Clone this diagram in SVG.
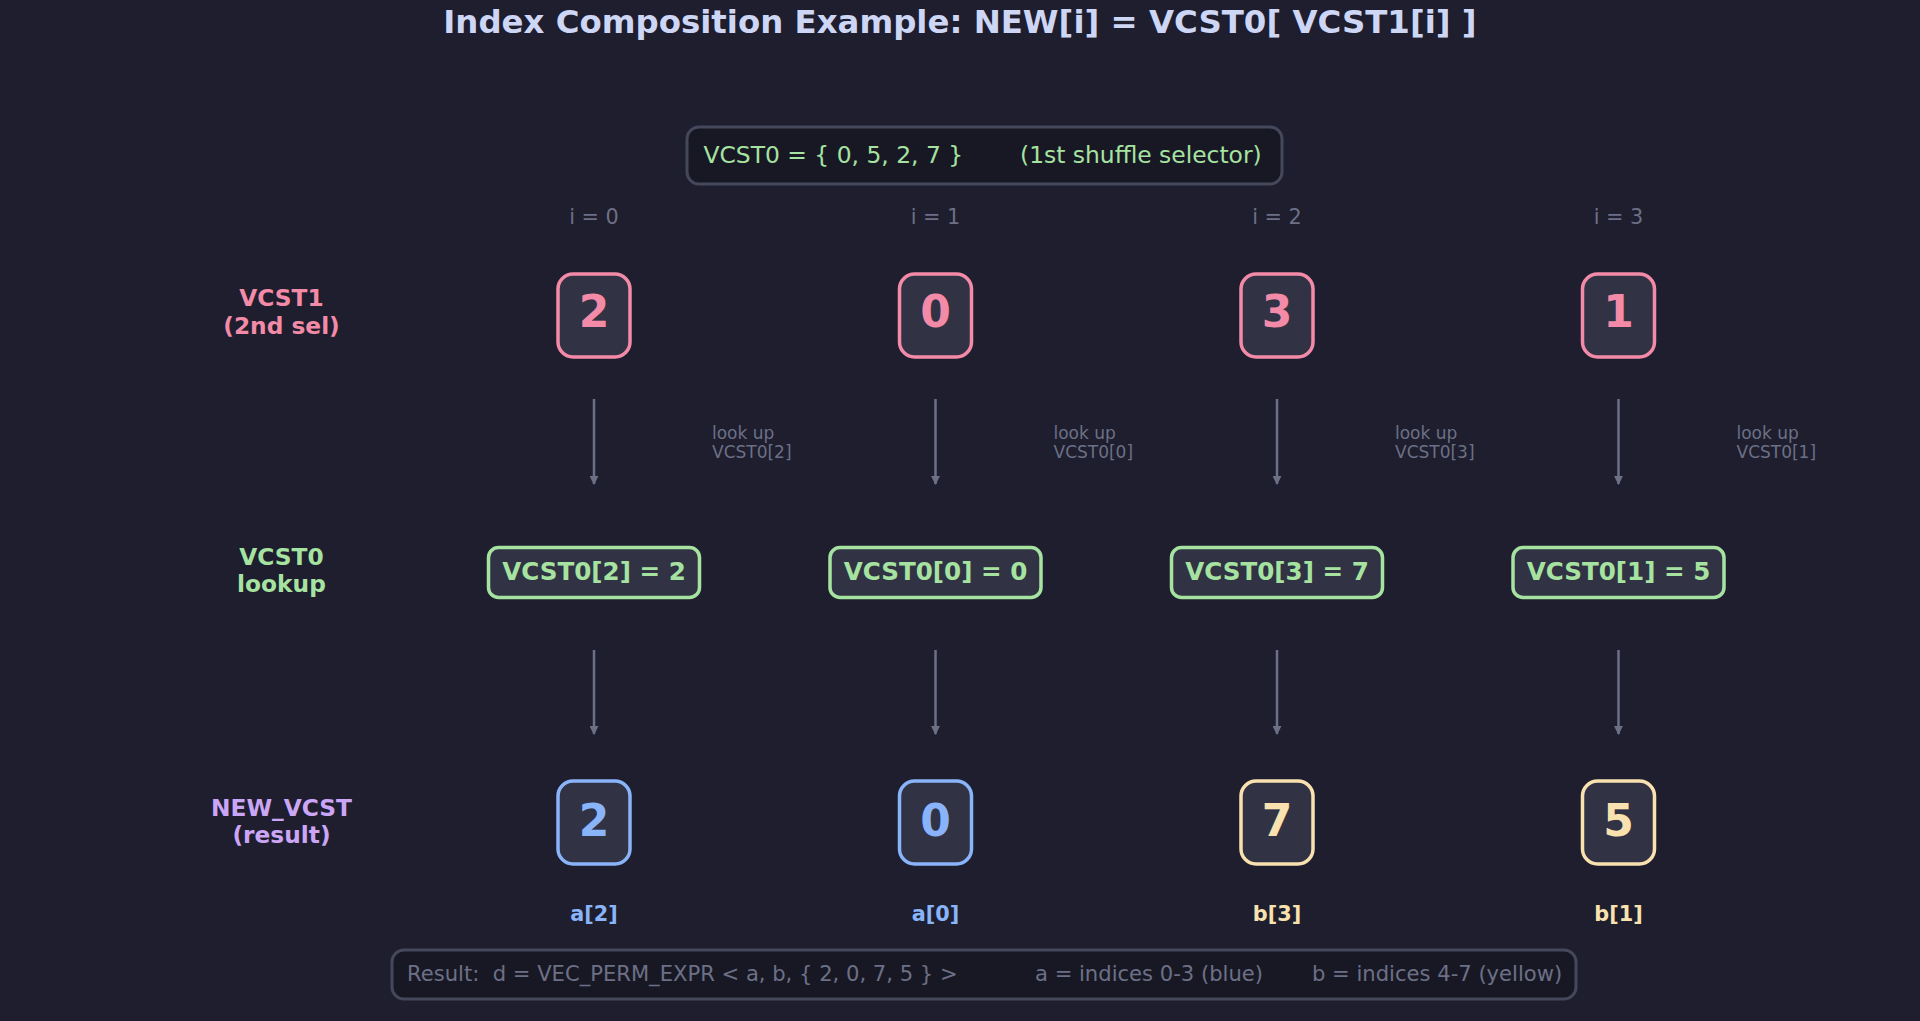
<svg xmlns="http://www.w3.org/2000/svg" width="1920" height="1021" viewBox="0 0 1920 1021">
<defs>
<style>
text{font-family:"DejaVu Sans","Liberation Sans",sans-serif}
.title{font-size:32.4px;font-weight:bold;fill:#cdd6f4;text-anchor:middle}
.hdr{font-size:23.4px;fill:#a6e3a1}
.idx{font-size:20.8px;fill:#6c7086;text-anchor:middle}
.row{font-size:23.3px;font-weight:bold;text-anchor:middle}
.sel{fill:#313244;stroke:#f38ba8;stroke-width:3.5}
.num{font-size:44px;font-weight:bold;text-anchor:middle}
.look{fill:#313244;stroke:#a6e3a1;stroke-width:3.5}
.looktxt{font-size:24.6px;font-weight:bold;fill:#a6e3a1;text-anchor:middle}
.note{font-size:17px;fill:#6c7086}
.res{font-size:20.8px;font-weight:bold;text-anchor:middle}
.panel{fill:#181825;stroke:#45475a;stroke-width:3}
.foot{font-size:21.1px;fill:#6c7086}
.arr{stroke:#6c7086;stroke-width:2.5;fill:none;marker-end:url(#ah)}
</style>
<marker id="ah" viewBox="0 0 10 10" refX="9" refY="5" markerWidth="3.6" markerHeight="3.6" orient="auto" markerUnits="strokeWidth">
<path d="M0,0 L10,5 L0,10 z" fill="#6c7086"/>
</marker>
</defs>
<rect x="0" y="0" width="1920" height="1021" fill="#1e1e2e"/>
<text class="title" x="960" y="33">Index Composition Example: NEW[i] = VCST0[ VCST1[i] ]</text>

<g id="vcst0-def">
<rect class="panel" x="687" y="127" width="595" height="57" rx="12"/>
<text class="hdr" x="703.5" y="163">VCST0 = { 0, 5, 2, 7 }</text>
<text class="hdr" x="1020" y="163">(1st shuffle selector)</text>
</g>

<g id="index-labels">
<text class="idx" x="594" y="223.5">i = 0</text>
<text class="idx" x="935.5" y="223.5">i = 1</text>
<text class="idx" x="1277" y="223.5">i = 2</text>
<text class="idx" x="1618.5" y="223.5">i = 3</text>
</g>

<g id="row-labels">
<text class="row" x="281.5" y="306" fill="#f38ba8">VCST1</text>
<text class="row" x="281.5" y="334" fill="#f38ba8">(2nd sel)</text>
<text class="row" x="281.5" y="565" fill="#a6e3a1">VCST0</text>
<text class="row" x="281.5" y="592" fill="#a6e3a1">lookup</text>
<text class="row" x="281.5" y="816" fill="#cba6f7">NEW_VCST</text>
<text class="row" x="281.5" y="843" fill="#cba6f7">(result)</text>
</g>

<g id="sel0"><rect class="sel" x="558" y="274" width="72" height="83" rx="15"/><text class="num" x="594" y="327" fill="#f38ba8">2</text></g>
<g id="sel1"><rect class="sel" x="899.5" y="274" width="72" height="83" rx="15"/><text class="num" x="935.5" y="327" fill="#f38ba8">0</text></g>
<g id="sel2"><rect class="sel" x="1241" y="274" width="72" height="83" rx="15"/><text class="num" x="1277" y="327" fill="#f38ba8">3</text></g>
<g id="sel3"><rect class="sel" x="1582.5" y="274" width="72" height="83" rx="15"/><text class="num" x="1618.5" y="327" fill="#f38ba8">1</text></g>

<g id="connectors">
<line class="arr" x1="594" y1="399" x2="594" y2="484"/>
<line class="arr" x1="935.5" y1="399" x2="935.5" y2="484"/>
<line class="arr" x1="1277" y1="399" x2="1277" y2="484"/>
<line class="arr" x1="1618.5" y1="399" x2="1618.5" y2="484"/>
<line class="arr" x1="594" y1="650" x2="594" y2="734"/>
<line class="arr" x1="935.5" y1="650" x2="935.5" y2="734"/>
<line class="arr" x1="1277" y1="650" x2="1277" y2="734"/>
<line class="arr" x1="1618.5" y1="650" x2="1618.5" y2="734"/>
</g>

<g id="notes">
<text class="note" x="712" y="439">look up</text><text class="note" x="712" y="458">VCST0[2]</text>
<text class="note" x="1053.5" y="439">look up</text><text class="note" x="1053.5" y="458">VCST0[0]</text>
<text class="note" x="1395" y="439">look up</text><text class="note" x="1395" y="458">VCST0[3]</text>
<text class="note" x="1736.5" y="439">look up</text><text class="note" x="1736.5" y="458">VCST0[1]</text>
</g>

<g id="look0"><rect class="look" x="488.5" y="547.5" width="211" height="50" rx="10"/><text class="looktxt" x="594" y="580">VCST0[2] = 2</text></g>
<g id="look1"><rect class="look" x="830" y="547.5" width="211" height="50" rx="10"/><text class="looktxt" x="935.5" y="580">VCST0[0] = 0</text></g>
<g id="look2"><rect class="look" x="1171.5" y="547.5" width="211" height="50" rx="10"/><text class="looktxt" x="1277" y="580">VCST0[3] = 7</text></g>
<g id="look3"><rect class="look" x="1513" y="547.5" width="211" height="50" rx="10"/><text class="looktxt" x="1618.5" y="580">VCST0[1] = 5</text></g>

<g id="new0"><rect x="558" y="781" width="72" height="83" rx="15" fill="#313244" stroke="#89b4fa" stroke-width="3.5"/><text class="num" x="594" y="836" fill="#89b4fa">2</text><text class="res" x="594" y="921" fill="#89b4fa">a[2]</text></g>
<g id="new1"><rect x="899.5" y="781" width="72" height="83" rx="15" fill="#313244" stroke="#89b4fa" stroke-width="3.5"/><text class="num" x="935.5" y="836" fill="#89b4fa">0</text><text class="res" x="935.5" y="921" fill="#89b4fa">a[0]</text></g>
<g id="new2"><rect x="1241" y="781" width="72" height="83" rx="15" fill="#313244" stroke="#f9e2af" stroke-width="3.5"/><text class="num" x="1277" y="836" fill="#f9e2af">7</text><text class="res" x="1277" y="921" fill="#f9e2af">b[3]</text></g>
<g id="new3"><rect x="1582.5" y="781" width="72" height="83" rx="15" fill="#313244" stroke="#f9e2af" stroke-width="3.5"/><text class="num" x="1618.5" y="836" fill="#f9e2af">5</text><text class="res" x="1618.5" y="921" fill="#f9e2af">b[1]</text></g>

<g id="result">
<rect class="panel" x="392" y="950" width="1184" height="49" rx="12"/>
<text class="foot" x="407" y="981" xml:space="preserve">Result:  d = VEC_PERM_EXPR &lt; a, b, { 2, 0, 7, 5 } &gt;</text>
<text class="foot" x="1035" y="981">a = indices 0-3 (blue)</text>
<text class="foot" x="1312" y="981">b = indices 4-7 (yellow)</text>
</g>
</svg>
